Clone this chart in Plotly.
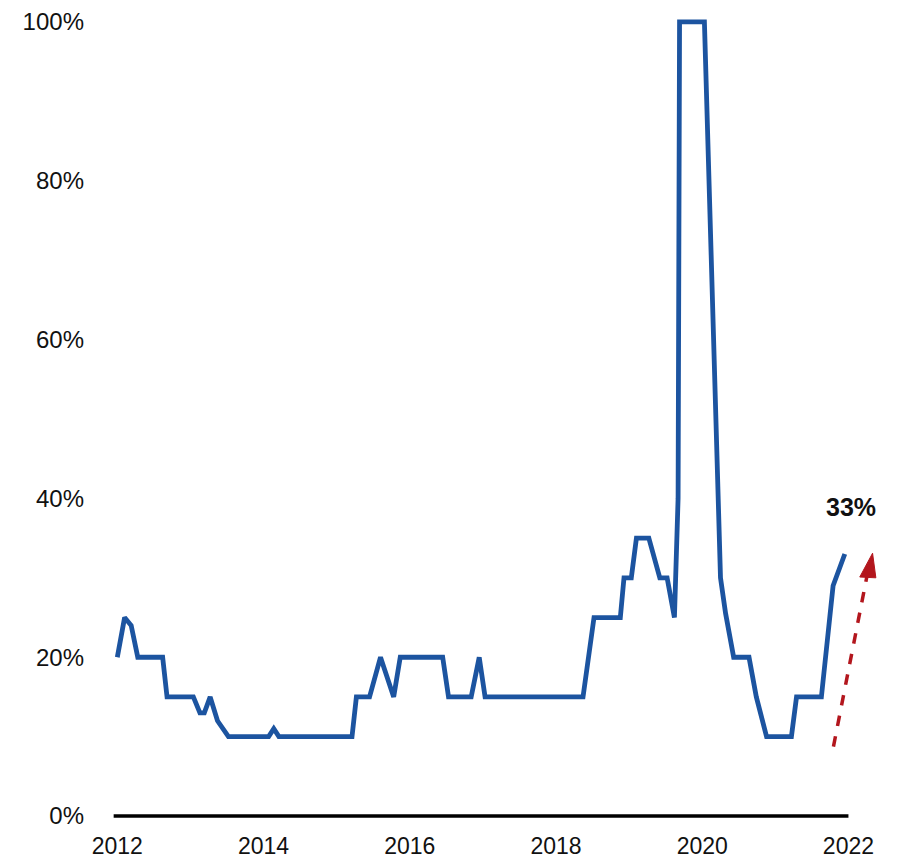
import plotly.graph_objects as go

# Data (decimal years, percent)
years = [2012.00, 2012.10, 2012.19, 2012.28, 2012.62, 2012.68, 2013.04, 2013.13, 2013.19,
         2013.27, 2013.37, 2013.52, 2014.07, 2014.14, 2014.21, 2015.21, 2015.27, 2015.45,
         2015.60, 2015.78, 2015.87, 2016.45, 2016.53, 2016.84, 2016.95, 2017.03, 2018.37,
         2018.52, 2018.88, 2018.93, 2019.03, 2019.10, 2019.27, 2019.42, 2019.52, 2019.62,
         2019.67, 2019.69, 2020.03, 2020.15, 2020.19, 2020.25, 2020.32, 2020.43, 2020.64,
         2020.74, 2020.88, 2021.22, 2021.29, 2021.63, 2021.79, 2021.95]
values = [20, 25, 24, 20, 20, 15, 15, 13, 13,
          15, 12, 10, 10, 11, 10, 10, 15, 15,
          20, 15, 20, 20, 15, 15, 20, 15, 15,
          25, 25, 30, 30, 35, 35, 30, 30, 25,
          40, 100, 100, 60, 46, 30, 25.5, 20, 20,
          15, 10, 10, 15, 15, 29, 33]

x_ticks = [2012, 2014, 2016, 2018, 2020, 2022]
x_ticktext = ["2012", "2014", "2016", "2018", "2020", "2022"]
y_ticks = [0, 20, 40, 60, 80, 100]
y_ticktext = ["0%", "20%", "40%", "60%", "80%", "100%"]

last_label = "33%"

fig = go.Figure()
fig.add_trace(go.Scatter(x=years, y=values, mode="lines",
                         line=dict(color="#1c54a0", width=4.8),
                         showlegend=False, hoverinfo="skip"))

font_family = "Arial, Liberation Sans, sans-serif"

# baseline axis
fig.add_shape(type="line", xref="x", yref="y", x0=2011.95, x1=2022.0, y0=0, y1=0,
              line=dict(color="black", width=3.5))

# dashed red arrow
red = "#b3161d"
fig.add_shape(type="line", xref="x", yref="y", x0=2021.795, y0=8.75, x1=2022.255, y1=30.3,
              line=dict(color=red, width=3.5, dash="dash"))
fig.add_shape(type="path", xref="x", yref="y",
              path="M 2022.33 33.1 L 2022.375 30.0 L 2022.155 30.1 Z",
              fillcolor=red, line=dict(color=red, width=1))

fig.add_annotation(x=2022.03, y=38.9, xref="x", yref="y", text="<b>" + last_label + "</b>",
                   showarrow=False, font=dict(family=font_family, size=25, color="#111111"))

fig.update_layout(
    width=891, height=851,
    margin=dict(l=101.7, r=14.4, t=0, b=33),
    paper_bgcolor="white", plot_bgcolor="white",
    font=dict(family=font_family, color="#111111"),
    xaxis=dict(range=[2011.9, 2022.5], tickvals=x_ticks, ticktext=x_ticktext,
               showgrid=False, zeroline=False, showline=False, ticks="",
               tickfont=dict(size=23), ticklabelstandoff=6, ticklabeloverflow="allow"),
    yaxis=dict(range=[-1, 101.25], tickvals=y_ticks, ticktext=y_ticktext,
               showgrid=False, zeroline=False, showline=False, ticks="",
               tickfont=dict(size=24), ticklabelstandoff=25, ticklabeloverflow="allow"),
)

fig.write_html("out.html")
